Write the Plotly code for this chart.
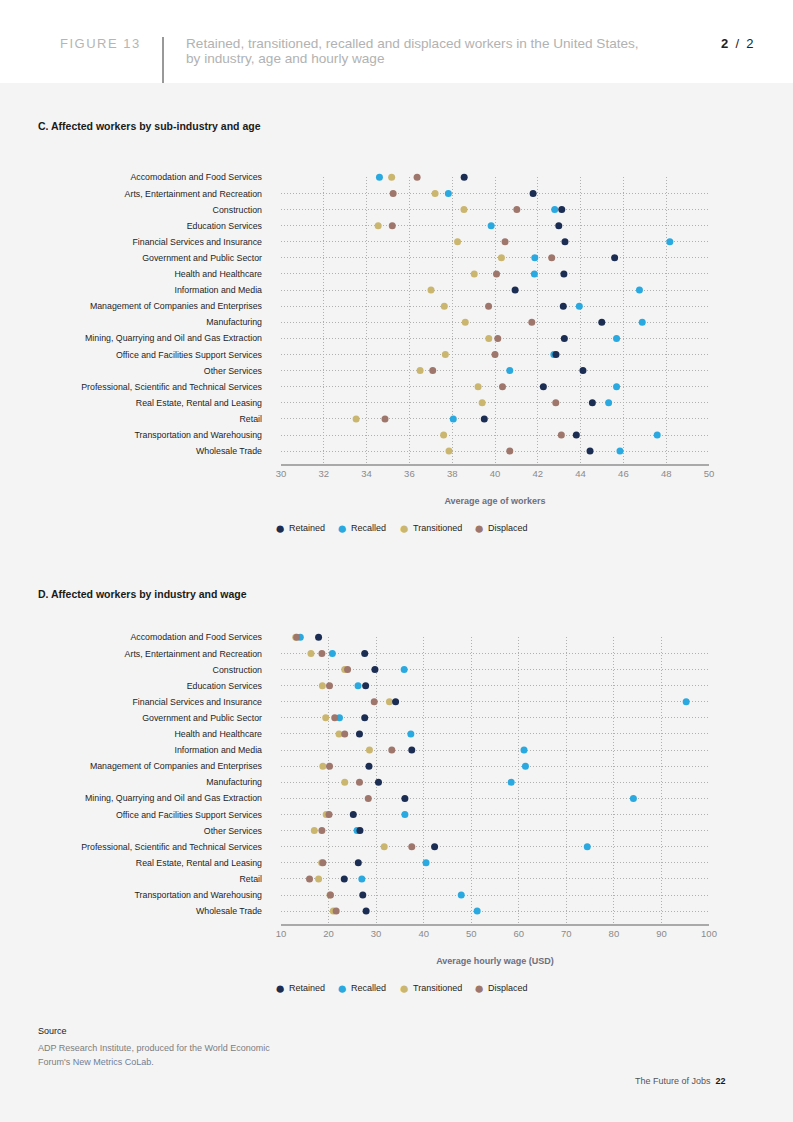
import plotly.graph_objects as go

industries = [
    "Accomodation and Food Services",
    "Arts, Entertainment and Recreation",
    "Construction",
    "Education Services",
    "Financial Services and Insurance",
    "Government and Public Sector",
    "Health and Healthcare",
    "Information and Media",
    "Management of Companies and Enterprises",
    "Manufacturing",
    "Mining, Quarrying and Oil and Gas Extraction",
    "Office and Facilities Support Services",
    "Other Services",
    "Professional, Scientific and Technical Services",
    "Real Estate, Rental and Leasing",
    "Retail",
    "Transportation and Warehousing",
    "Wholesale Trade",
]

# Panel C: average age of workers
age_retained = [38.56, 41.78, 43.12, 42.98, 43.27, 45.59, 43.22, 40.94, 43.19, 44.99,
                43.24, 42.85, 44.11, 42.26, 44.55, 39.50, 43.80, 44.44]
age_recalled = [34.60, 37.82, 42.79, 39.82, 48.17, 41.86, 41.84, 46.75, 43.94, 46.88,
                45.68, 42.75, 40.69, 45.68, 45.31, 38.05, 47.58, 45.84]
age_transitioned = [35.17, 37.20, 38.55, 34.54, 38.25, 40.30, 39.03, 37.01, 37.63, 38.61,
                    39.71, 37.68, 36.50, 39.21, 39.40, 33.51, 37.60, 37.85]
age_displaced = [36.36, 35.24, 41.02, 35.20, 40.47, 42.65, 40.07, None, 39.70, 41.72,
                 40.13, 40.00, 37.09, 40.35, 42.84, 34.86, 43.10, 40.69]

# Panel D: average hourly wage (USD)
wage_retained = [17.9, 27.6, 29.75, 27.8, 34.1, 27.6, 26.5, 37.5, 28.5, 30.5,
                 36.05, 25.2, 26.6, 42.3, 26.25, 23.3, 27.2, 27.9]
wage_recalled = [14.06, 20.8, 35.9, 26.2, 95.2, 22.3, 37.3, 61.1, 61.4, 58.4,
                 84.1, 36.05, 26.0, 74.4, 40.5, 27.0, 47.9, 51.25]
wage_transitioned = [13.1, 16.3, 23.4, 18.7, 32.8, 19.4, 22.2, 28.6, 18.8, 23.4,
                     None, 19.5, 17.0, 31.7, 18.55, 17.9, 20.3, 21.0]
wage_displaced = [13.3, 18.6, 24.0, 20.2, 29.6, 21.3, 23.4, 33.3, 20.2, 26.5,
                  28.35, 20.1, 18.6, 37.5, 18.8, 16.0, 20.4, 21.6]

series_names = ["Retained", "Recalled", "Transitioned", "Displaced"]
series_colors = {"Retained": "#1b2d52", "Recalled": "#2aa9e0",
                 "Transitioned": "#cbb66f", "Displaced": "#9f766b"}
draw_order = ["Recalled", "Transitioned", "Displaced", "Retained"]

age_data = {"Retained": age_retained, "Recalled": age_recalled,
            "Transitioned": age_transitioned, "Displaced": age_displaced}
wage_data = {"Retained": wage_retained, "Recalled": wage_recalled,
             "Transitioned": wage_transitioned, "Displaced": wage_displaced}

W, H = 793, 1122
def px(x):
    return x / W
def py(y):
    return 1 - y / H

BG = "#f4f4f4"
FONT = "Liberation Sans, Arial, sans-serif"

fig = go.Figure()

for panel, data, xa, ya in [("C", age_data, "x", "y"), ("D", wage_data, "x2", "y2")]:
    for name in draw_order:
        fig.add_trace(go.Scatter(
            x=data[name], y=industries, mode="markers", name=name,
            marker=dict(color=series_colors[name], size=7, line=dict(width=0)),
            xaxis=xa, yaxis=ya, showlegend=False, cliponaxis=False,
            hovertemplate="%{y}: %{x}<extra>" + name + "</extra>",
        ))

grid = dict(showgrid=True, gridcolor="#b0b0b0", griddash="1px,2px", gridwidth=1,
            automargin=False)
tickfont = dict(family=FONT, size=9.5, color="#8a8a8a")
catfont = dict(family=FONT, size=8.8, color="#1e1e1e")
n = len(industries)

fig.update_layout(
    template="none",
    width=W, height=H, margin=dict(l=0, r=0, t=0, b=0, pad=0, autoexpand=False),
    paper_bgcolor=BG, plot_bgcolor=BG, showlegend=False,
    font=dict(family=FONT),
    xaxis=dict(domain=[px(281), px(709)], anchor="y", range=[30, 50], dtick=2,
               tickfont=tickfont, showline=True, linecolor="#a9a9a9", linewidth=2,
               zeroline=False, ticks="", ticklen=0,
               title=dict(text="<b>Average age of workers</b>", standoff=19,
                          font=dict(family=FONT, size=9, color="#6c6f7e")), **grid),
    yaxis=dict(domain=[py(464), py(177)], anchor="x", type="category",
               categoryorder="array", categoryarray=industries,
               range=[n - 1 + 0.8, -0.02], tickfont=catfont, ticks="",
               ticklabelstandoff=18, zeroline=False, **grid),
    xaxis2=dict(domain=[px(281), px(709)], anchor="y2", range=[10, 100], dtick=10,
                tickfont=tickfont, showline=True, linecolor="#a9a9a9", linewidth=2,
                zeroline=False, ticks="", ticklen=0,
                title=dict(text="<b>Average hourly wage (USD)</b>", standoff=19,
                           font=dict(family=FONT, size=9, color="#6c6f7e")), **grid),
    yaxis2=dict(domain=[py(924), py(637)], anchor="x2", type="category",
                categoryorder="array", categoryarray=industries,
                range=[n - 1 + 0.8, -0.02], tickfont=catfont, ticks="",
                ticklabelstandoff=18, zeroline=False, **grid),
)

# header band and divider
fig.add_shape(type="rect", xref="paper", yref="paper", x0=0, x1=1, y0=py(83), y1=1,
              fillcolor="#ffffff", line=dict(width=0), layer="below")
fig.add_shape(type="line", xref="paper", yref="paper", x0=px(163), x1=px(163),
              y0=py(83), y1=py(37), line=dict(color="#333333", width=1))

def note(text, x, y, size, color, xanchor="left", yanchor="middle", align="left"):
    fig.add_annotation(text=text, x=px(x), y=py(y), xref="paper", yref="paper",
                       showarrow=False, xanchor=xanchor, yanchor=yanchor, align=align,
                       borderpad=0, font=dict(family=FONT, size=size, color=color))

note("<span style='letter-spacing:1.5px'>FIGURE 13</span>", 59, 43, 13, "#b5b5b5")
note("Retained, transitioned, recalled and displaced workers in the United States,", 185, 43, 13.6, "#b2b2b2")
note("by industry, age and hourly wage", 185, 58, 13.6, "#b2b2b2")
note("<b>2</b>  /  2", 755, 43, 13, "#222222", xanchor="right")
note("<b>C. Affected workers by sub-industry and age</b>", 37, 126, 10.5, "#1a1a1a")
note("<b>D. Affected workers by industry and wage</b>", 37, 594, 10.5, "#1a1a1a")
note("Source", 37, 1031, 9, "#1a1a1a")
note("ADP Research Institute, produced for the World Economic", 37, 1048, 9, "#7d7d7d")
note("Forum's <span style='color:#6f7f9a'>New Metrics CoLab</span>.", 37, 1062, 9, "#7d7d7d")
note("The Future of Jobs  <b><span style='color:#1a1a1a'>22</span></b>", 727, 1081, 9, "#555555", xanchor="right")

# legends (one per panel)
legend_dot_x = [280, 342, 404, 479]
for ly in [528, 988]:
    for name, dx in zip(series_names, legend_dot_x):
        note("●", dx, ly, 17, series_colors[name], xanchor="center")
        note(name, dx + 8, ly, 9, "#1e1e1e")

fig.write_html("out.html", config={"displayModeBar": False},
               post_script="document.body.style.margin='0';document.body.style.overflow='hidden';")
